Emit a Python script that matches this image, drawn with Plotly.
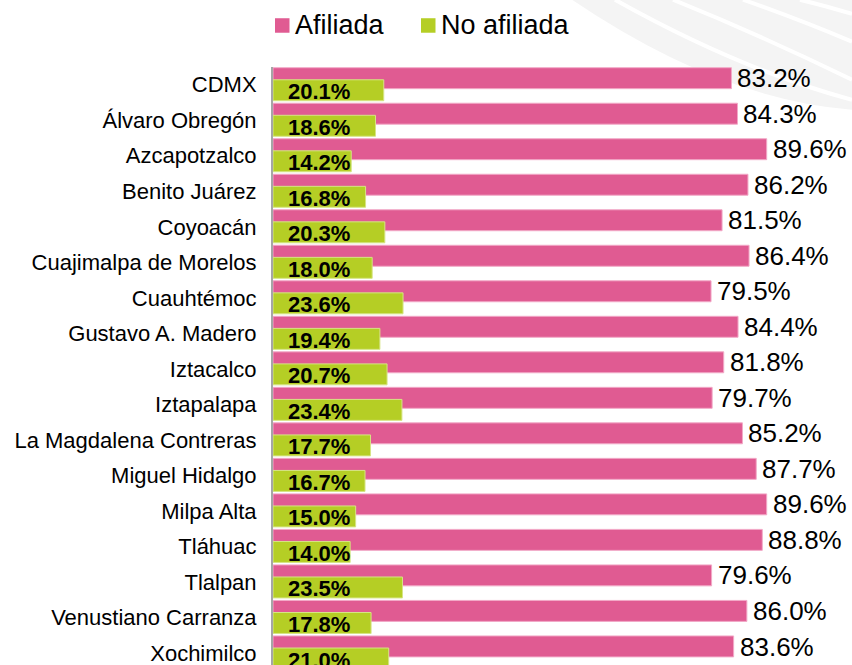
import plotly.graph_objects as go

categories = ["CDMX", "Álvaro Obregón", "Azcapotzalco", "Benito Juárez", "Coyoacán",
              "Cuajimalpa de Morelos", "Cuauhtémoc", "Gustavo A. Madero", "Iztacalco",
              "Iztapalapa", "La Magdalena Contreras", "Miguel Hidalgo", "Milpa Alta",
              "Tláhuac", "Tlalpan", "Venustiano Carranza", "Xochimilco"]
afiliada = [83.2, 84.3, 89.6, 86.2, 81.5, 86.4, 79.5, 84.4, 81.8, 79.7, 85.2, 87.7, 89.6,
            88.8, 79.6, 86.0, 83.6]
no_afiliada = [20.1, 18.6, 14.2, 16.8, 20.3, 18.0, 23.6, 19.4, 20.7, 23.4, 17.7, 16.7, 15.0,
               14.0, 23.5, 17.8, 21.0]
series_names = ["Afiliada", "No afiliada"]

PINK = "#E05B92"
GREEN = "#B5CE25"
FONT = "Liberation Sans, Arial, Helvetica, sans-serif"

W, H = 852, 665
ML, MR, MT, MB = 273, 28, 67.25, 0
PW = W - ML - MR
PH = H - MT - MB


def px(x):
    return (x - ML) / PW


def py(y):
    return 1 - (y - MT) / PH


fig = go.Figure()
fig.add_trace(go.Bar(
    name=series_names[0], y=categories, x=afiliada, orientation="h",
    offset=-0.48, width=0.59,
    marker=dict(color=PINK, line=dict(color="#F2A9C7", width=1)),
    showlegend=False, hoverinfo="x+y", cliponaxis=True,
))
fig.add_trace(go.Bar(
    name=series_names[1], y=categories, x=no_afiliada, orientation="h",
    offset=-0.14, width=0.59,
    marker=dict(color=GREEN, line=dict(color="#D6E585", width=1)),
    showlegend=False, hoverinfo="x+y",
))

annotations = []
for c, v in zip(categories, afiliada):
    annotations.append(dict(
        x=v, y=c, xref="x", yref="y", text=f"{v:.1f}%", showarrow=False,
        xanchor="left", yanchor="middle", xshift=4, yshift=6.5,
        font=dict(family=FONT, size=26, color="black")))
for c, v in zip(categories, no_afiliada):
    annotations.append(dict(
        x=0, y=c, xref="x", yref="y", text=f"<b>{v:.1f}%</b>", showarrow=False,
        xanchor="left", yanchor="middle", xshift=13, yshift=-7,
        font=dict(family=FONT, size=22, color="black")))

# manual legend
legend_items = [(series_names[0], PINK, 275), (series_names[1], GREEN, 421)]
shapes = []
for name, col, x0 in legend_items:
    shapes.append(dict(type="rect", xref="paper", yref="paper",
                       x0=px(x0), x1=px(x0 + 14.5), y0=py(33), y1=py(18.5),
                       fillcolor=col, line=dict(width=0)))
    annotations.append(dict(x=px(x0 + 18), y=py(25), xref="paper", yref="paper",
                            text=name, showarrow=False, xanchor="left", yanchor="middle",
                            font=dict(family=FONT, size=27, color="black")))

# faint decorative arcs in the background
bg = "#F4F4F4"
shapes.insert(0, dict(type="path", xref="paper", yref="paper", layer="below",
                      path=(f"M {px(572)},{py(0)} L {px(852)},{py(0)} L {px(852)},{py(110)} "
                            f"Q {px(720)},{py(100)} {px(572)},{py(0)} Z"),
                      fillcolor=bg, line=dict(width=0)))
for (x0, y0, cx, cy, x1, y1) in [(615, 0, 740, 70, 852, 100), (673, 0, 760, 35, 852, 80),
                                 (743, 0, 800, 20, 852, 42), (800, 0, 825, 6, 852, 14)]:
    shapes.insert(1, dict(type="path", xref="paper", yref="paper", layer="below",
                          path=f"M {px(x0)},{py(y0)} Q {px(cx)},{py(cy)} {px(x1)},{py(y1)}",
                          line=dict(color="white", width=4)))

fig.update_layout(
    width=W, height=H,
    margin=dict(l=ML, r=MR, t=MT, b=MB, pad=0, autoexpand=False),
    paper_bgcolor="white", plot_bgcolor="rgba(0,0,0,0)",
    barmode="overlay",
    font=dict(family=FONT, color="black"),
    xaxis=dict(range=[0, 100], visible=False, fixedrange=True),
    yaxis=dict(type="category", categoryorder="array", categoryarray=categories,
               range=[16.338, -0.5], autorange=False, fixedrange=True,
               showline=True, linecolor="#A6A6A6", linewidth=2,
               showgrid=False, zeroline=False, ticks="", ticklabelstandoff=10,
               tickfont=dict(family=FONT, size=22, color="black")),
    shapes=shapes, annotations=annotations,
)

fig.write_html("out.html", config={"displayModeBar": False},
               post_script="document.body.style.margin='0px';document.body.style.overflow='hidden';")
